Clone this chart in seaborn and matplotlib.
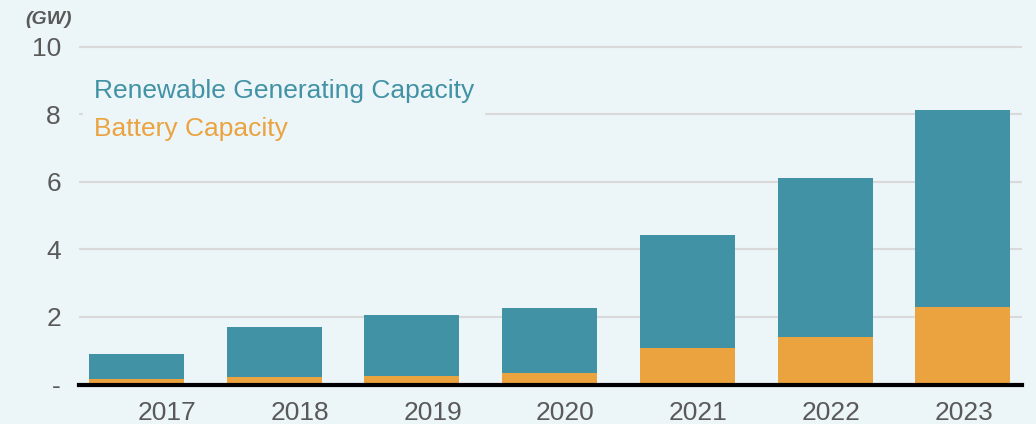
import numpy as np
import pandas as pd
import seaborn as sns
from matplotlib import pyplot as plt
from matplotlib.patches import Patch

# values (GW)
years = ["2017", "2018", "2019", "2020", "2021", "2022", "2023"]
battery = [0.15, 0.21, 0.24, 0.33, 1.07, 1.40, 2.29]
renewable = [0.74, 1.48, 1.81, 1.93, 3.35, 4.71, 5.83]
ytick_vals = [0, 2, 4, 6, 8, 10]
ytick_labels = ["-", "2", "4", "6", "8", "10"]

teal = "#4292A5"
orange = "#EBA340"
bg = "#ECF5F8"
grey = "#595959"

df = pd.DataFrame({"Year": years, "Battery": battery, "Renewable": renewable})
df["Total"] = df["Battery"] + df["Renewable"]

sns.set_style("white")
plt.rcParams["font.family"] = ["Liberation Sans", "DejaVu Sans"]

fig = plt.figure(figsize=(10.36, 4.24), dpi=100, facecolor=bg)
ax = fig.add_axes([79 / 1036, 1 - 384.5 / 424, 943 / 1036, (384.5 - 40.25) / 424])
ax.set_facecolor(bg)

# stacked bars: total first, battery drawn over it
sns.barplot(data=df, x="Year", y="Total", color=teal, saturation=1, width=0.69,
            linewidth=0, ax=ax, zorder=2)
sns.barplot(data=df, x="Year", y="Battery", color=orange, saturation=1, width=0.69,
            linewidth=0, ax=ax, zorder=3)

ax.set_xlim(-0.417, 6.43)
ax.set_ylim(0, 10.2)
ax.set_yticks(ytick_vals, ytick_labels)
ax.tick_params(axis="y", length=0, pad=13, labelsize=19, labelcolor=grey)
ax.set_xticks([])
ax.set_xlabel("")
ax.set_ylabel("")
ax.yaxis.grid(True, color="#D9D9D9", linewidth=1.5, zorder=0)
ax.set_axisbelow(True)
for s in ["top", "right", "left"]:
    ax.spines[s].set_visible(False)
ax.spines["bottom"].set_color("black")
ax.spines["bottom"].set_linewidth(3)
ax.spines["bottom"].set_zorder(5)

# year labels sit on their own evenly spaced scale, as in the source chart
ax2 = ax.twiny()
ax2.set_xlim(-0.663, 6.44)
ax2.xaxis.set_ticks_position("bottom")
ax2.set_xticks(range(len(years)), years)
ax2.tick_params(axis="x", length=0, pad=12, labelsize=19, labelcolor=grey)
for s in ax2.spines.values():
    s.set_visible(False)

handles = [Patch(visible=False), Patch(visible=False)]
leg = ax.legend(handles, ["Renewable Generating Capacity", "Battery Capacity"],
                loc="upper left", bbox_to_anchor=(83 / 1036, 1 - 68 / 424),
                bbox_transform=fig.transFigure, frameon=True, fontsize=19,
                handlelength=0, handletextpad=0, labelspacing=0.55,
                borderaxespad=0, borderpad=0.4, labelcolor=[teal, orange])
leg.get_frame().set_facecolor(bg)
leg.get_frame().set_edgecolor(bg)
leg.get_frame().set_alpha(1)

fig.text(25 / 1036, 1 - 19 / 424, "(GW)", fontsize=14, fontweight="bold",
         fontstyle="italic", color=grey, va="center", ha="left")

plt.savefig("out.png", dpi=100, facecolor=bg)
